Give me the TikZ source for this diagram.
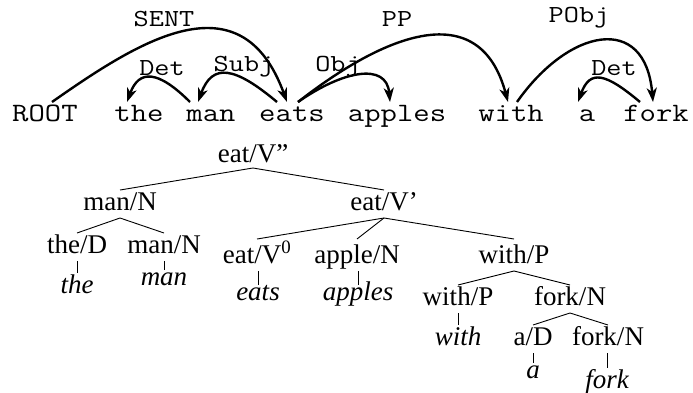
\documentclass[tikz,border=0pt]{standalone}
\usepackage{fontspec}
\newfontfamily\monof[FakeStretch=1.2]{Latin Modern Mono}
\newfontfamily\serf{Liberation Serif}
\usetikzlibrary{arrows.meta}
\tikzset{
  word/.style={font=\monof\fontsize{26.5}{26.5}\selectfont, inner sep=0pt, outer sep=0pt, text height=20pt, text depth=6pt, anchor=base},
  lab/.style={font=\monof\fontsize{24.5}{24.5}\selectfont, inner sep=0pt, anchor=base},
  arc/.style={line width=2.4pt, -{Stealth[length=14pt,width=10pt,inset=4pt]}},
  tn/.style={font=\serf\fontsize{27}{27}\selectfont, inner sep=0pt, outer sep=0pt, text height=20pt, text depth=8pt, anchor=base},
  lf/.style={font=\serf\itshape\fontsize{27}{27}\selectfont, inner sep=0pt, outer sep=0pt, text height=20pt, text depth=0pt, anchor=base},
  br/.style={line width=0.9pt},
  tk/.style={line width=0.6pt},
}
\begin{document}
\begin{tikzpicture}[x=1pt,y=1pt]
\useasboundingbox (0,0) rectangle (693,-393);
% sentence words
\node[word] (ROOT) at (45,-122) {ROOT};
\node[word] (the) at (139,-122) {the};
\node[word] (man) at (211,-122) {man};
\node[word] (eats) at (292,-122) {eats};
\node[word] (apples) at (397,-122) {apples};
\node[word] (with) at (511,-122) {with};
\node[word] (a) at (587,-122) {a};
\node[word] (fork) at (656,-122) {fork};
% dependency arcs
\draw[arc] ([xshift=7pt]ROOT.north) to[out=35,in=110,out distance=105pt,in distance=135pt] ([xshift=-5pt]eats.north);
\draw[arc] ([xshift=-21pt]man.north) to[out=135,in=70,out distance=45pt,in distance=35pt] ([xshift=-12pt]the.north);
\draw[arc] ([xshift=-15pt]eats.north) to[out=140,in=70,out distance=55pt,in distance=42pt] ([xshift=-13pt]man.north);
\draw[arc] ([xshift=6pt]eats.north) to[out=35,in=95,out distance=55pt,in distance=40pt] ([xshift=-7pt]apples.north);
\draw[arc] ([xshift=6pt]eats.north) to[out=38,in=105,out distance=110pt,in distance=110pt] ([xshift=-3pt]with.north);
\draw[arc] ([xshift=6pt]with.north) to[out=55,in=95,out distance=90pt,in distance=90pt] ([xshift=-3pt]fork.north);
\draw[arc] ([xshift=-16pt]fork.north) to[out=140,in=70,out distance=45pt,in distance=35pt] ([xshift=-9pt]a.north);
% arc labels
\node[lab] (lSENT) at (164,-27) {SENT};
\node[lab] (lDet) at (162,-76) {Det};
\node[lab] (lSubj) at (244,-72) {Subj};
\node[lab] (lObj) at (338,-72) {Obj};
\node[lab] (lPP) at (397,-27) {PP};
\node[lab] (lPObj) at (579,-23) {PObj};
\node[lab] (lDetb) at (614,-76) {Det};
% tree nodes
\node[tn, text depth=6pt] (V2) at (253,-162) {eat/V”};
\node[tn] (manN) at (120,-210) {man/N};
\node[tn] (V1) at (384,-210) {eat/V’};
\node[tn] (theD) at (77,-253) {the/D};
\node[tn] (manNb) at (164,-253) {man/N};
\node[tn, text height=24pt] (V0) at (257,-263) {eat/V\textsuperscript{0}};
\node[tn, text height=24pt] (appleN) at (357,-263) {apple/N};
\node[tn, text height=24pt] (withP) at (514,-263) {with/P};
\node[tn] (withPb) at (458,-305) {with/P};
\node[tn] (forkN) at (570,-305) {fork/N};
\node[tn] (aD) at (533,-345) {a/D};
\node[tn] (forkNb) at (608,-345) {fork/N};
% leaves
\node[lf] (theL) at (77,-293) {the};
\node[lf, text height=15pt] (manL) at (164,-285) {man};
\node[lf, text height=15pt] (eatsL) at (258,-300) {eats};
\node[lf, text height=15pt] (applesL) at (358,-300) {apples};
\node[lf] (withL) at (458,-345) {with};
\node[lf, text height=15pt] (aL) at (533,-378) {a};
\node[lf] (forkL) at (607,-388) {fork};
% branches
\draw[br] (V2.south) -- (manN.north);
\draw[br] (V2.south) -- (V1.north);
\draw[br] (manN.south) -- (theD.north);
\draw[br] (manN.south) -- (manNb.north);
\draw[br] (V1.south) -- (V0.north);
\draw[br] (V1.south) -- (appleN.north);
\draw[br] (V1.south) -- (withP.north);
\draw[br] (withP.south) -- (withPb.north);
\draw[br] (withP.south) -- (forkN.north);
\draw[br] (forkN.south) -- (aD.north);
\draw[br] (forkN.south) -- (forkNb.north);
% ticks
\draw[tk] (theL.north |- theD.south) -- (theL.north);
\draw[tk] (manL.north |- manNb.south) -- (manL.north);
\draw[tk] (eatsL.north |- V0.south) -- (eatsL.north);
\draw[tk] (applesL.north |- appleN.south) -- (applesL.north);
\draw[tk] (withL.north |- withPb.south) -- (withL.north);
\draw[tk] (aL.north |- aD.south) -- (aL.north);
\draw[tk] (forkL.north |- forkNb.south) -- (forkL.north);
\end{tikzpicture}
\end{document}
